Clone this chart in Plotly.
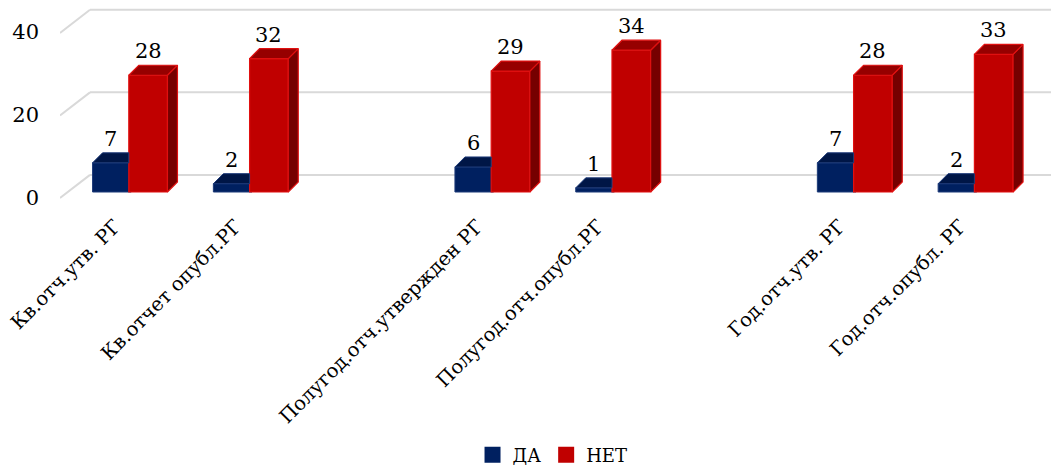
import plotly.graph_objects as go

# ---- data ----
categories = ["Кв.отч.утв. РГ", "Кв.отчет опубл.РГ",
              "Полугод.отч.утвержден РГ", "Полугод.отч.опубл.РГ",
              "Год.отч.утв. РГ", "Год.отч.опубл. РГ"]
positions = [0, 1, 3, 4, 6, 7]          # slots 2 and 5 are empty gaps
da_values = [7, 2, 6, 1, 7, 2]
net_values = [28, 32, 29, 34, 28, 33]
y_ticks = [0, 20, 40]
series_names = ["ДА", "НЕТ"]

# ---- style / geometry ----
FONT = "DejaVu Serif"
SLOT_PX = 120.8          # pixels per x unit
K = 4.17                 # pixels per y unit
DX = 10 / SLOT_PX        # 3D depth offset in x units
DY = 10 / K              # 3D depth offset in y units
BLUE, BLUE_TOP, BLUE_LINE = "#002060", "#001646", "#1d3a78"
RED, RED_TOP, RED_SIDE, RED_LINE = "#C00000", "#960000", "#760000", "#E01010"
B0, B1 = -0.31, 0.01     # blue front face extents (relative to slot)
R0, R1 = -0.01, 0.31     # red front face extents

fig = go.Figure()

fig.add_trace(go.Bar(x=positions, y=da_values, name=series_names[0], width=0.32, offset=B0,
                     showlegend=False,
                     marker=dict(color=BLUE, line=dict(color=BLUE_LINE, width=1))))
fig.add_trace(go.Bar(x=positions, y=net_values, name=series_names[1], width=0.32, offset=R0,
                     showlegend=False,
                     marker=dict(color=RED, line=dict(color=RED_LINE, width=1.2))))

# blue top faces (part not hidden by red front)
bx, by = [], []
for p, v in zip(positions, da_values):
    bx += [p + B0, p + R0, p + R0, p + B0 + DX, p + B0, None]
    by += [v, v, v + DY, v + DY, v, None]
fig.add_trace(go.Scatter(x=bx, y=by, mode="lines", fill="toself", fillcolor=BLUE_TOP,
                         line=dict(color=BLUE_LINE, width=1), showlegend=False, hoverinfo="skip"))

# red top + side faces
tx, ty, sx, sy = [], [], [], []
for p, v in zip(positions, net_values):
    tx += [p + R0, p + R1, p + R1 + DX, p + R0 + DX, p + R0, None]
    ty += [v, v, v + DY, v + DY, v, None]
    sx += [p + R1, p + R1, p + R1 + DX, p + R1 + DX, p + R1, None]
    sy += [0, v, v + DY, DY, 0, None]
fig.add_trace(go.Scatter(x=sx, y=sy, mode="lines", fill="toself", fillcolor=RED_SIDE,
                         line=dict(color=RED_LINE, width=1.2), showlegend=False, hoverinfo="skip"))
fig.add_trace(go.Scatter(x=tx, y=ty, mode="lines", fill="toself", fillcolor=RED_TOP,
                         line=dict(color=RED_LINE, width=1.2), showlegend=False, hoverinfo="skip"))

# legend entries (square swatches)
for name, col in zip(series_names, [BLUE, RED]):
    fig.add_trace(go.Scatter(x=[None], y=[None], mode="markers", name=name,
                             marker=dict(symbol="square", size=16, color=col)))

# data labels
for p, v in zip(positions, da_values):
    fig.add_annotation(x=p + (B0 + R0) / 2, y=v, text=str(v), showarrow=False, yshift=24,
                       font=dict(family=FONT, size=21, color="black"))
for p, v in zip(positions, net_values):
    fig.add_annotation(x=p + (R0 + R1) / 2, y=v, text=str(v), showarrow=False, yshift=24,
                       font=dict(family=FONT, size=21, color="black"))

# 3D back-wall gridlines with floor slant
X_LEFT = -0.5795
X_BACK = X_LEFT + 30 / SLOT_PX
X_RIGHT = 7.7
for t in y_ticks:
    back = t * 0.99 + 4.1
    front = t * 0.99 - 1.45
    fig.add_shape(type="line", xref="x", yref="y", x0=X_LEFT, y0=front, x1=X_BACK, y1=back,
                  line=dict(color="#D9D9D9", width=2), layer="below")
    fig.add_shape(type="line", xref="x", yref="y", x0=X_BACK, y0=back, x1=X_RIGHT, y1=back,
                  line=dict(color="#D9D9D9", width=2), layer="below")

fig.update_layout(
    width=1051, height=469,
    margin=dict(l=60, r=0, t=0, b=269, autoexpand=False),
    plot_bgcolor="white", paper_bgcolor="white",
    barmode="overlay",
    font=dict(family=FONT, color="black"),
    showlegend=True,
    legend=dict(orientation="h", x=0.497, xanchor="center", y=-1.275, yanchor="middle",
                font=dict(family=FONT, size=18, color="black"), itemwidth=30,
                tracegroupgap=0),
    xaxis=dict(range=[X_LEFT, (1051 - 130) / SLOT_PX], tickvals=positions, ticktext=categories,
               tickangle=-45, showgrid=False, zeroline=False, showline=False, ticks="",
               automargin=False, ticklabelshift=-15, ticklabelstandoff=10,
               tickfont=dict(family=FONT, size=19.5, color="black")),
    yaxis=dict(range=[-8 / K, 192 / K],
               tickvals=y_ticks, showgrid=False, zeroline=False, showline=False, ticks="",
               automargin=False, ticklabelshift=6, ticklabelstandoff=20,
               tickfont=dict(family=FONT, size=21, color="black")),
)

fig.write_html("out.html")
